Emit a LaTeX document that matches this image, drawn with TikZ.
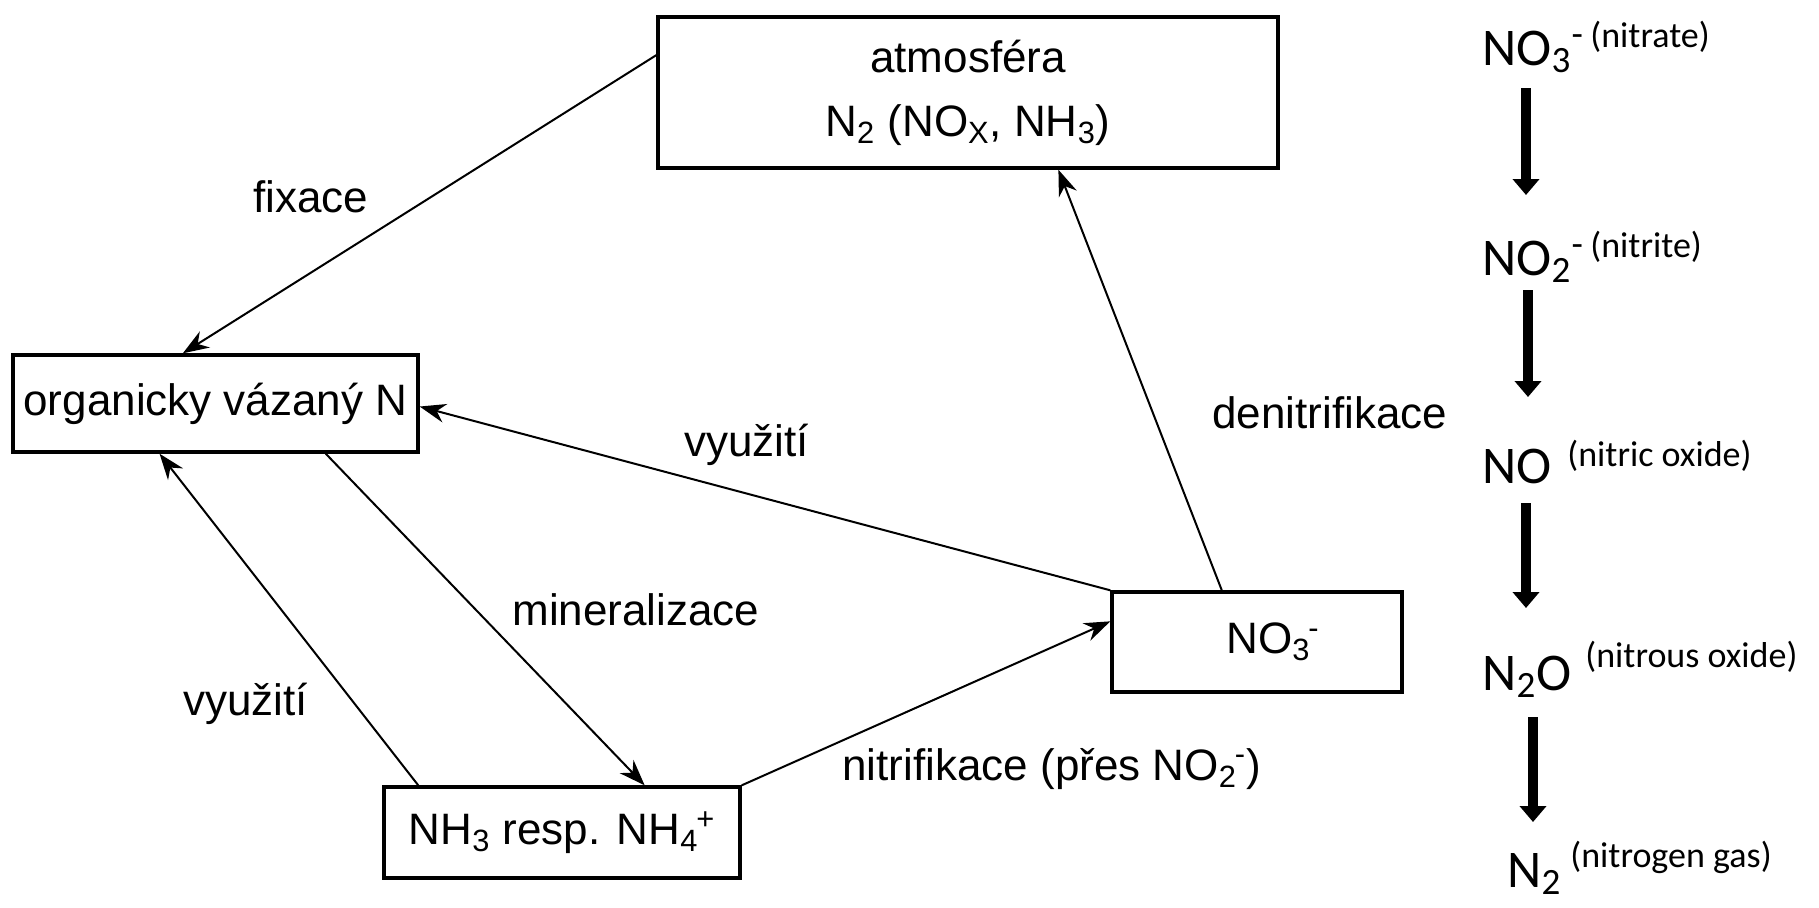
\documentclass[tikz,border=0pt]{standalone}
\usepackage{fontspec}
\setmainfont{Liberation Sans}
\newfontfamily\calibfont{Carlito}
\usetikzlibrary{arrows.meta,calc}

\begin{document}
\begin{tikzpicture}[x=0.5pt,y=-0.5pt,
  box/.style={draw, line width=1.7pt, inner sep=0pt, align=center,
              font=\fontsize{22}{32}\selectfont},
  lbl/.style={inner sep=0pt, anchor=base west, font=\fontsize{22}{26}\selectfont},
  conn/.style={line width=1pt, -{Stealth[length=13pt,width=9.5pt]}},
  chem/.style={inner sep=0pt, anchor=base west, font=\calibfont\fontsize{26.5}{30}\selectfont},
  chemnote/.style={inner sep=0pt, anchor=base west, font=\calibfont\fontsize{18}{22}\selectfont},
  fatarrow/.style={line width=5pt, -{Triangle[length=8pt,width=13pt]}}]

\useasboundingbox (0,0) rectangle (1819,907);

% pools of the cycle
\node[box, minimum width=310pt, minimum height=75.5pt] (atm) at (968,92.5)
  {atmosféra\\N\textsubscript{2} (NO\textsubscript{X}, NH\textsubscript{3})};
\node[box, minimum width=202.5pt, minimum height=48.5pt] (org) at (215.5,403.5)
  {organicky vázaný N};
\node[box, minimum width=178pt, minimum height=45.5pt] (nh3) at (562,832.5)
  {NH\textsubscript{3} resp. NH\textsubscript{4}\kern-0.05em\textsuperscript{+}};
\node[box, minimum width=145pt, minimum height=50pt] (no3) at (1257,642)
  {\hspace*{16pt}NO\textsubscript{3}\kern-0.05em\textsuperscript{-}};

% transformations
\draw[conn] ($(atm.north west)!0.258!(atm.south west)$) -- ($(org.north west)!0.42!(org.north east)$);
\draw[conn] (no3.north west) -- ($(org.north east)!0.53!(org.south east)$);
\draw[conn] ($(no3.north west)!0.38!(no3.north east)$) -- ($(atm.south west)!0.645!(atm.south east)$);
\draw[conn] ($(org.south west)!0.77!(org.south east)$) -- ($(nh3.north west)!0.73!(nh3.north east)$);
\draw[conn] ($(nh3.north west)!0.1!(nh3.north east)$) -- ($(org.south west)!0.363!(org.south east)$);
\draw[conn] (nh3.north east) -- ($(no3.north west)!0.3!(no3.south west)$);

% process labels
\node[lbl] (lfix) at (253,212) {fixace};
\node[lbl] (luse1) at (684,456) {využití};
\node[lbl] (ldenit) at (1212,428) {denitrifikace};
\node[lbl] (lmin) at (512,625) {mineralizace};
\node[lbl] (luse2) at (183,715) {využití};
\node[lbl] (lnitr) at (842,780) {nitrifikace (přes NO\textsubscript{2}\kern-0.05em\textsuperscript{-})};

% denitrification sequence
\node[chem] (s1) at (1482,65) {NO\textsubscript{3}\textsuperscript{-}};
\node[chemnote] (s1n) at (1590,47) {(nitrate)};
\node[chem] (s2) at (1482,275) {NO\textsubscript{2}\textsuperscript{-}};
\node[chemnote] (s2n) at (1590,257) {(nitrite)};
\node[chem] (s3) at (1482,483) {NO};
\node[chemnote] (s3n) at (1567,466) {(nitric oxide)};
\node[chem] (s4) at (1482,690) {N\textsubscript{2}O};
\node[chemnote] (s4n) at (1585,667) {(nitrous oxide)};
\node[chem] (s5) at (1507,887) {N\textsubscript{2}};
\node[chemnote] (s5n) at (1570,867) {(nitrogen gas)};

\coordinate (a1s) at (1526,88);  \coordinate (a1e) at (1526,195);
\coordinate (a2s) at (1528,290); \coordinate (a2e) at (1528,397);
\coordinate (a3s) at (1526,503); \coordinate (a3e) at (1526,608);
\coordinate (a4s) at (1533,717); \coordinate (a4e) at (1533,822);
\draw[fatarrow] (a1s) -- (a1e);
\draw[fatarrow] (a2s) -- (a2e);
\draw[fatarrow] (a3s) -- (a3e);
\draw[fatarrow] (a4s) -- (a4e);

\end{tikzpicture}
\end{document}
